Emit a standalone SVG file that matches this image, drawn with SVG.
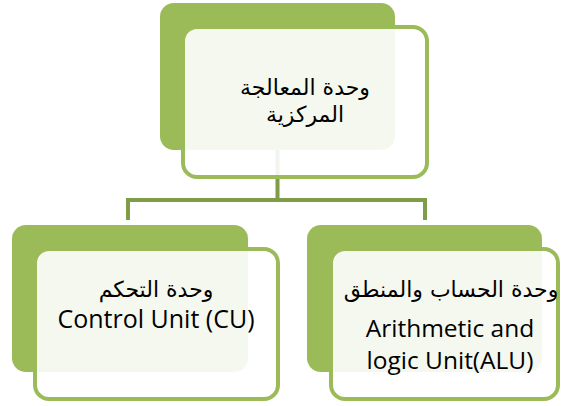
<svg xmlns="http://www.w3.org/2000/svg" width="563" height="406" viewBox="0 0 563 406">
<style>
.back{fill:#9BBB59}
.front{fill:#FFFFFF;fill-opacity:0.9;stroke:#9BBB59;stroke-width:4}
.conn{fill:none;stroke:#7F9C49;stroke-width:4}
.ar{font-family:"DejaVu Sans","Liberation Sans",sans-serif;fill:#000;text-anchor:middle}
.en{font-family:"Open Sans","Liberation Sans",sans-serif;fill:#000;text-anchor:middle}
</style>
<rect width="563" height="406" fill="#FFFFFF"/>
<g id="connectors">
<path class="conn" d="M277.5 150 V200 M128 220 V200 H425 V220"/>
</g>
<g id="node-cpu">
<rect class="back" x="160" y="3" width="235" height="147" rx="14"/>
<rect class="front" x="183" y="27" width="244" height="150" rx="14"/>
<text class="ar" x="305" y="95" font-size="22">وحدة المعالجة</text>
<text class="ar" x="305" y="122" font-size="22">المركزية</text>
</g>
<g id="node-cu">
<rect class="back" x="12" y="225" width="236" height="147" rx="14"/>
<rect class="front" x="35" y="249" width="243" height="150" rx="14"/>
<text class="ar" x="156" y="297" font-size="22">وحدة التحكم</text>
<text class="en" x="156" y="328" font-size="25">Control Unit (CU)</text>
</g>
<g id="node-alu">
<rect class="back" x="307" y="225" width="235" height="147" rx="14"/>
<rect class="front" x="331" y="249" width="227" height="150" rx="14"/>
<text class="ar" x="451" y="297" font-size="22">وحدة الحساب والمنطق</text>
<text class="en" x="450" y="337" font-size="24.5">Arithmetic and</text>
<text class="en" x="450" y="369" font-size="24.5">logic Unit(ALU)</text>
</g>
</svg>
